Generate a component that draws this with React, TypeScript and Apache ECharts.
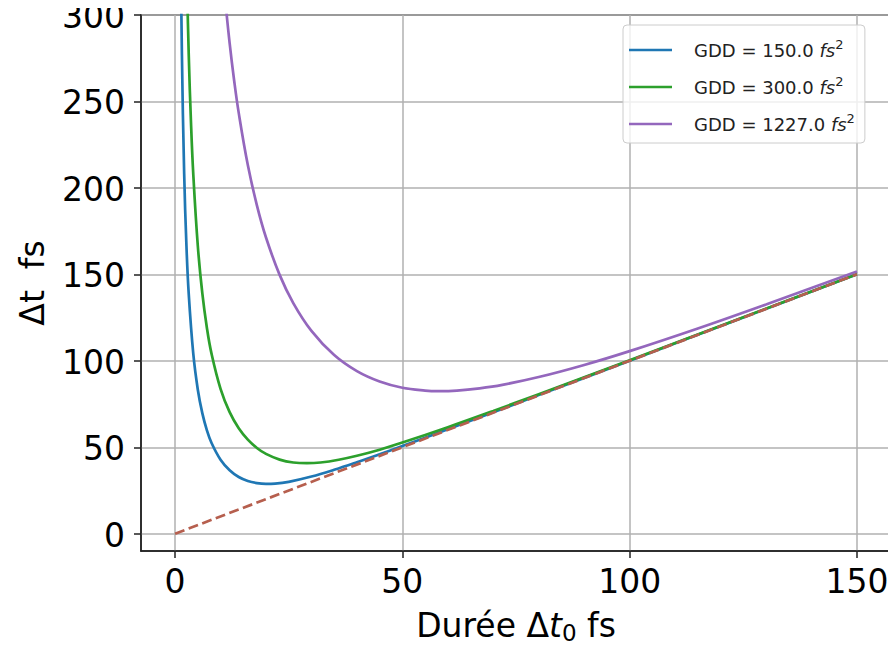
import React, { useEffect, useRef } from "react";
import * as echarts from "echarts";

// Curve GDD = 150 fs²
const blueX = [1, 1.2, 1.5, 2, 2.5, 3, 4, 5, 6, 7, 8, 10, 12, 14, 16, 18, 20, 22, 25, 30, 35, 40, 45, 50, 60, 70, 80, 100, 125, 150];
const blueY = [416, 346.6, 277.3, 208.0, 166.4, 138.7, 104.1, 83.3, 69.6, 59.8, 52.6, 42.8, 36.7, 32.8, 30.5, 29.3, 28.85, 29.0, 30.0, 33.05, 36.96, 41.33, 45.94, 50.69, 60.4, 70.25, 80.17, 100.09, 125.07, 150.06];
// Curve GDD = 300 fs²
const greenX = [2.5, 3, 3.5, 4, 5, 6, 7, 8, 10, 12, 14, 16, 18, 20, 23, 26, 29, 32, 36, 40, 45, 50, 60, 70, 80, 100, 125, 150];
const greenY = [332.7, 277.3, 237.7, 208.0, 166.4, 138.8, 119.0, 104.3, 83.8, 70.3, 61.0, 54.4, 49.6, 46.15, 42.86, 41.2, 40.8, 41.2, 42.8, 45.1, 48.6, 52.7, 61.6, 71.0, 80.7, 100.35, 125.18, 150.1];
// Curve GDD = 1227 fs²
const purpleX = [11, 12, 13, 14, 16, 18, 20, 23, 26, 30, 35, 40, 45, 50, 55, 58, 62, 67, 72, 80, 90, 100, 115, 130, 150];
const purpleY = [309.5, 283.75, 262.0, 243.4, 213.2, 189.9, 171.3, 149.7, 133.4, 117.3, 103.3, 94.0, 88.0, 84.4, 82.8, 82.5, 82.8, 84.1, 86.1, 90.6, 97.6, 105.6, 118.7, 132.6, 151.7];
// Reference Δt = Δt0
const refX = [0, 150];
const refY = [0, 150];

const seriesNames = ["GDD = 150.0", "GDD = 300.0", "GDD = 1227.0"];
const xTicks = [0, 50, 100, 150];
const yTicks = [0, 50, 100, 150, 200, 250, 300];

const FONT = "DejaVu Sans";

const zip = (xs: number[], ys: number[]) => xs.map((x, i) => [x, ys[i]]);

export default function App() {
  const ref = useRef<HTMLDivElement>(null);
  useEffect(() => {
    if (!ref.current) return;
    const chart = echarts.init(ref.current, null, { renderer: "svg" });
    const lineSeries = (name: string, xs: number[], ys: number[], color: string) => ({
      name,
      type: "line",
      data: zip(xs, ys),
      showSymbol: false,
      symbol: "none",
      smooth: 0.4,
      lineStyle: { color, width: 2.7 },
      itemStyle: { color },
      clip: true,
    });
    chart.setOption({
      animation: false,
      backgroundColor: "#ffffff",
      textStyle: { fontFamily: FONT },
      grid: {
        left: 141,
        right: 5,
        top: 15,
        bottom: 99,
        outerBoundsMode: "none",
        containLabel: false,
        show: true,
        borderColor: "#222222",
        borderWidth: 1.5,
        backgroundColor: "transparent",
      },
      legend: {
        data: seriesNames,
        orient: "vertical",
        left: 623,
        top: 25,
        padding: [13, 10, 8, 6],
        icon: "rect",
        itemWidth: 43,
        itemHeight: 2.7,
        itemGap: 14,
        backgroundColor: "rgba(255,255,255,0.8)",
        borderColor: "#cccccc",
        borderWidth: 1,
        borderRadius: 4,
        formatter: (name: string) => `{g|}{a|${name} }{i|fs}{s|2}`,
        textStyle: {
          fontFamily: FONT,
          fontSize: 18,
          color: "#222222",
          lineHeight: 22,
          rich: {
            g: { width: 17 },
            a: { fontFamily: FONT, fontSize: 18, color: "#222222" },
            i: { fontFamily: FONT, fontSize: 18, fontStyle: "italic", color: "#222222" },
            s: { fontFamily: FONT, fontSize: 13, color: "#222222", padding: [0, 0, 11, 0] },
          },
        },
      },
      xAxis: {
        type: "value",
        min: -7.5,
        max: 157.5,
        name: "Durée Δ{i|t}{sub|0} fs",
        nameLocation: "middle",
        nameGap: 56,
        nameTextStyle: {
          fontFamily: FONT,
          fontSize: 33,
          color: "#000000",
          rich: {
            i: { fontFamily: FONT, fontSize: 33, fontStyle: "italic", color: "#000000" },
            sub: { fontFamily: FONT, fontSize: 23, color: "#000000", padding: [14, 0, 0, 0] },
          },
        },
        axisLine: { show: true, onZero: false, lineStyle: { color: "#222222", width: 1.5 } },
        axisTick: { show: true, length: 7, customValues: xTicks, lineStyle: { color: "#222222", width: 1.5 } },
        axisLabel: { customValues: xTicks, fontFamily: FONT, fontSize: 33, color: "#000000", margin: 14 },
        splitLine: { show: true, lineStyle: { color: "#b0b0b0", width: 1.5 } },
      },
      yAxis: {
        type: "value",
        min: -10,
        max: 300,
        name: "Δt\u00a0 fs",
        nameLocation: "middle",
        nameGap: 92,
        nameTextStyle: { fontFamily: FONT, fontSize: 33, color: "#000000" },
        axisLine: { show: true, onZero: false, lineStyle: { color: "#222222", width: 1.5 } },
        axisTick: { show: true, length: 7, customValues: yTicks, lineStyle: { color: "#222222", width: 1.5 } },
        axisLabel: {
          customValues: yTicks,
          formatter: (v: number) => `{v|${v}}`,
          color: "#000000",
          margin: 16,
          rich: {
            v: { fontFamily: FONT, fontSize: 33, lineHeight: 24, color: "#000000", padding: [3, 0, 0, 0] },
          },
        },
        splitLine: { show: true, lineStyle: { color: "#b0b0b0", width: 1.5 } },
      },
      series: [
        lineSeries(seriesNames[0], blueX, blueY, "#1f77b4"),
        lineSeries(seriesNames[1], greenX, greenY, "#2ca02c"),
        lineSeries(seriesNames[2], purpleX, purpleY, "#9467bd"),
        {
          name: "ref",
          type: "line",
          data: zip(refX, refY),
          showSymbol: false,
          symbol: "none",
          lineStyle: { color: "#b65f4e", width: 2.7, type: [10, 4.5] },
          itemStyle: { color: "#b65f4e" },
        },
      ],
    });
    return () => chart.dispose();
  }, []);
  return <div ref={ref} style={{ width: 896, height: 650, margin: -8 }} />;
}
